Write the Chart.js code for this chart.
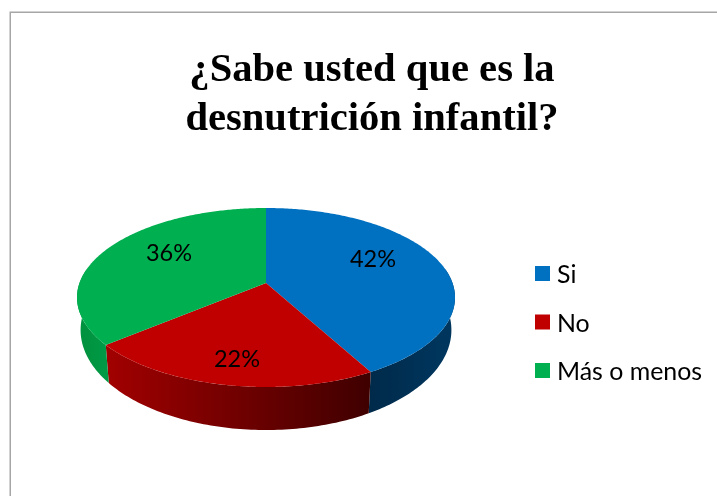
<!DOCTYPE html>
<html><head><meta charset="utf-8">
<style>html,body{margin:0;padding:0;background:#fff;overflow:hidden}#w{width:717px;height:496px;position:relative}</style>
<script src="https://cdn.jsdelivr.net/npm/chart.js@4"></script></head>
<body><div id="w"><canvas id="c" width="717" height="496"></canvas></div>
<script>
const titleLines = ['¿Sabe usted que es la', 'desnutrición infantil?'];
const categories = ['Si', 'No', 'Más o menos'];
const percentages = [42, 22, 36];
const sliceColors = ['#0070C0', '#C00000', '#00B050'];

// Perspective of the tilted disc
const view = {cx: 266, cy: 283, R: 186.5, S: 87.15, k: 0.162, drop: 30.8, Sb: 97.4, shrink: 0.981};
const labelSpots = [{x: 373, y: 259}, {x: 237, y: 359}, {x: 169, y: 253}];
const wallStops = [['#00365E', '#002A4A'], ['#3F0000', '#A20000'], ['#009A46', '#00933F']];
const legendBox = {x: 535, y: 266, size: 15, gap: 7, step: 48.5};

function top3d(a){const u=Math.cos(a),v=Math.sin(a),d=1-view.k*v;
  return [view.cx+view.R*u/d, view.cy+view.S*v/d];}
function bottom3d(a){const u=Math.cos(a),v=Math.sin(a),d=1-view.k*v;
  return [view.cx+view.R*view.shrink*u/d, view.cy+view.drop+view.Sb*v/d];}

const pie3d = {
  id: 'pie3d',
  beforeDraw(chart){
    const c = chart.ctx;
    c.save(); c.fillStyle='#fff'; c.fillRect(0,0,chart.width,chart.height);
    c.strokeStyle='#A6A6A6'; c.lineWidth=1.5;
    c.beginPath(); c.moveTo(10.25,chart.height); c.lineTo(10.25,12.25); c.lineTo(chart.width,12.25); c.stroke();
    c.restore();
  },
  beforeDatasetsDraw(chart){
    const c = chart.ctx, arcs = chart.getDatasetMeta(0).data;
    const tilt = Math.asin(view.k), visA = -tilt, visB = Math.PI + tilt;
    c.save();
    // side walls first, then the top faces
    arcs.forEach((arc,i)=>{
      const a0 = Math.max(arc.startAngle, visA), a1 = Math.min(arc.endAngle, visB);
      if (a1 <= a0) return;
      const g = c.createLinearGradient(top3d(a0)[0],0,top3d(a1)[0],0);
      g.addColorStop(0, wallStops[i][0]); g.addColorStop(1, wallStops[i][1]);
      c.fillStyle = g; c.beginPath();
      const n = 80;
      for(let j=0;j<=n;j++){const p=top3d(a0+(a1-a0)*j/n); j?c.lineTo(p[0],p[1]):c.moveTo(p[0],p[1]);}
      for(let j=n;j>=0;j--){const p=bottom3d(a0+(a1-a0)*j/n); c.lineTo(p[0],p[1]);}
      c.closePath(); c.fill();
    });
    arcs.forEach((arc)=>{
      c.fillStyle = arc.options.backgroundColor; c.beginPath(); c.moveTo(view.cx,view.cy);
      const n = 200;
      for(let j=0;j<=n;j++){const p=top3d(arc.startAngle+(arc.endAngle-arc.startAngle)*j/n); c.lineTo(p[0],p[1]);}
      c.closePath(); c.fill();
    });
    c.fillStyle='#000'; c.font='23.5px Lato'; c.textAlign='center'; c.textBaseline='middle';
    percentages.forEach((v,i)=>c.fillText(v+'%', labelSpots[i].x, labelSpots[i].y));
    // legend
    c.textAlign='left';
    c.font='24.9px Lato';
    categories.forEach((name,i)=>{
      const y = legendBox.y + legendBox.step*i;
      c.fillStyle = sliceColors[i]; c.fillRect(legendBox.x, y, legendBox.size, legendBox.size);
      c.fillStyle = '#000'; c.fillText(name, legendBox.x+legendBox.size+legendBox.gap, y+legendBox.size/2+1.7);
    });
    c.restore();
    return false;
  }
};

new Chart(document.getElementById('c'), {
  type: 'pie',
  plugins: [pie3d],
  data: {labels: categories, datasets: [{data: percentages, backgroundColor: sliceColors, borderWidth: 0}]},
  options: {
    responsive: false, animation: false,
    layout: {padding: {left: 27, right: 0, top: 0, bottom: 0}},
    plugins: {
      tooltip: {enabled: false},
      legend: {display: false},
      title: {display: true, text: titleLines, color: '#000',
        font: {family: '"Liberation Serif"', size: 40.6, weight: 'bold', lineHeight: 1.207},
        padding: {top: 46, bottom: 20}}
    }
  }
});
</script></body></html>
